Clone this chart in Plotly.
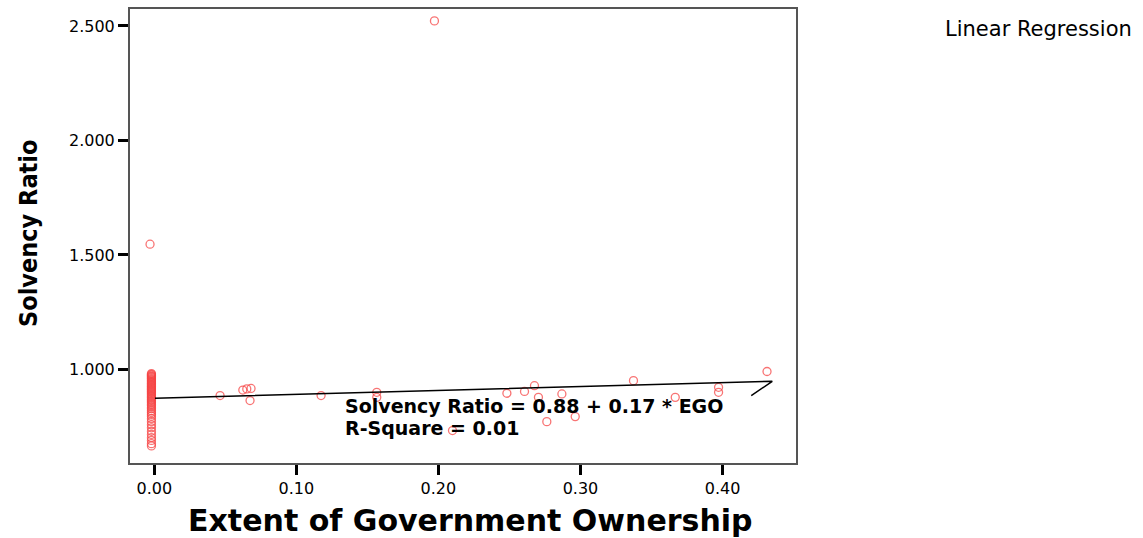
import plotly.graph_objects as go

# ---- data ----
cluster_y = [0.982, 0.978, 0.975, 0.971, 0.968, 0.964, 0.96, 0.956, 0.952, 0.948, 0.944,
             0.94, 0.936, 0.932, 0.928, 0.924, 0.92, 0.916, 0.912, 0.908, 0.904, 0.9,
             0.895, 0.89, 0.885, 0.88, 0.875, 0.87, 0.865, 0.86, 0.854, 0.848, 0.842,
             0.835, 0.828, 0.82, 0.812, 0.804, 0.796, 0.785, 0.772, 0.758, 0.745,
             0.73, 0.716, 0.702, 0.69, 0.676, 0.666]
cluster_x = [-0.002] * len(cluster_y)

other_x = [-0.003, 0.1972, 0.0463, 0.0623, 0.0651, 0.0681, 0.0674, 0.1174, 0.1566, 0.1566,
           0.2482, 0.2606, 0.2676, 0.2704, 0.2869, 0.2763, 0.2963, 0.2099, 0.3373,
           0.3667, 0.3972, 0.3972, 0.4313]
other_y = [1.547, 2.522, 0.886, 0.910, 0.915, 0.917, 0.864, 0.886, 0.900, 0.878,
           0.896, 0.904, 0.929, 0.878, 0.893, 0.772, 0.794, 0.733, 0.951,
           0.878, 0.922, 0.900, 0.991]

fit_x = [0.0005, 0.435, 0.4202]
fit_y = [0.874, 0.948, 0.886]

x_ticks = [0.0, 0.1, 0.2, 0.3, 0.4]
y_ticks = [1.0, 1.5, 2.0, 2.5]

x_range = [-0.0171, 0.4517]
y_range = [0.5914, 2.574]

eq_text = "Solvency Ratio = 0.88 + 0.17 * EGO"
r2_text = "R-Square = 0.01"

W, H = 1143, 538
L, R, T, B = 130, 347, 7, 75

xs = cluster_x + other_x
ys = cluster_y + other_y

fig = go.Figure()
fig.add_trace(go.Scatter(
    x=xs, y=ys, mode="markers",
    marker=dict(symbol="circle-open", size=8,
                line=dict(color="rgba(245,70,70,0.75)", width=1.3),
                color="rgba(245,70,70,0.75)"),
    hoverinfo="x+y", showlegend=False))
fig.add_trace(go.Scatter(
    x=fit_x, y=fit_y, mode="lines",
    line=dict(color="black", width=1.5), showlegend=False))

pw = W - L - R
ph = H - T - B

def px_to_paper_x(px):
    return (px - L) / pw

def px_to_paper_y(py):
    return 1 - (py - T) / ph

annos = [
    dict(text=eq_text, x=0.1329, y=0.842, xref="x", yref="y", xanchor="left",
         yanchor="middle", showarrow=False,
         font=dict(family="DejaVu Sans", size=19, color="black", weight="bold")),
    dict(text=r2_text, x=0.1329, y=0.746, xref="x", yref="y", xanchor="left",
         yanchor="middle", showarrow=False,
         font=dict(family="DejaVu Sans", size=19, color="black", weight="bold")),
    dict(text="Linear Regression", x=px_to_paper_x(943), y=px_to_paper_y(27),
         xref="paper", yref="paper", xanchor="left", yanchor="middle", showarrow=False,
         font=dict(family="DejaVu Sans", size=21, color="black")),
    dict(text="Solvency Ratio", x=px_to_paper_x(28), y=px_to_paper_y(232),
         xref="paper", yref="paper", xanchor="center", yanchor="middle", showarrow=False,
         textangle=-90,
         font=dict(family="Liberation Sans Narrow, DejaVu Sans Condensed, Liberation Sans",
                   size=25, color="black", weight="bold")),
    dict(text="Extent of Government Ownership", x=px_to_paper_x(471), y=px_to_paper_y(521),
         xref="paper", yref="paper", xanchor="center", yanchor="middle", showarrow=False,
         font=dict(family="DejaVu Sans", size=30, color="black", weight="bold")),
]

axis_common = dict(showgrid=False, zeroline=False, showline=True, mirror=True,
                   linecolor="#555555", linewidth=2, ticks="outside", ticklen=10,
                   tickwidth=3, tickcolor="black",
                   tickfont=dict(family="DejaVu Sans", size=16, color="black"))

fig.update_layout(
    width=W, height=H, margin=dict(l=L, r=R, t=T, b=B),
    paper_bgcolor="white", plot_bgcolor="white",
    xaxis=dict(range=x_range, tickvals=x_ticks, tickformat=".2f", **axis_common),
    yaxis=dict(range=y_range, tickvals=y_ticks, tickformat=".3f", **axis_common),
    annotations=annos,
)

fig.write_html("out.html")
